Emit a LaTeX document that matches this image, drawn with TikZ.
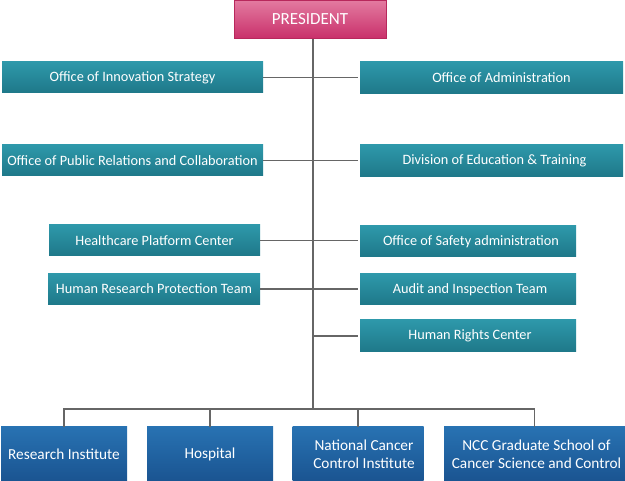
\documentclass[tikz,border=0pt]{standalone}
\usepackage{fontspec}
\setmainfont{Carlito}
\definecolor{tealtop}{HTML}{2E98AA}
\definecolor{tealbot}{HTML}{1E7889}
\definecolor{bluetop}{HTML}{2872B2}
\definecolor{bluebot}{HTML}{1A5491}
\definecolor{pinktop}{HTML}{E37AA0}
\definecolor{pinkbot}{HTML}{C9306A}
\definecolor{pinkline}{HTML}{B8285C}
\definecolor{conn}{HTML}{666666}
\begin{document}
\begin{tikzpicture}[x=1pt,y=-1pt,
  base/.style={rectangle, inner sep=0pt, text=white, align=center, font=\fontsize{14.3}{16}\selectfont},
  tealbox/.style={base, top color=tealtop, bottom color=tealbot},
  bluebox/.style={base, top color=bluetop, bottom color=bluebot, font=\fontsize{15.3}{17.5}\selectfont},
  presbox/.style={base, top color=pinktop, bottom color=pinkbot, draw=pinkline, line width=0.8pt, font=\fontsize{17}{19}\selectfont},
  link/.style={draw=conn, line width=1.1pt}]
\useasboundingbox (0,0) rectangle (625,481);
% president
\node[presbox, minimum width=152pt, minimum height=38pt] (pres) at (310,19.5) {PRESIDENT};
% left column
\node[tealbox, minimum width=261pt, minimum height=31pt] (ois) at (132.5,77.5) {Office of Innovation Strategy};
\node[tealbox, minimum width=261pt, minimum height=31pt] (oprc) at (132.5,160.5) {Office of Public Relations and Collaboration};
\node[tealbox, minimum width=211pt, minimum height=31pt] (hpc) at (154.5,240.5) {Healthcare Platform Center};
\node[tealbox, minimum width=212pt, minimum height=31pt] (hrpt) at (154,289) {Human Research Protection Team};
% right column
\node[tealbox, minimum width=263pt, minimum height=32pt] (oa) at (491.5,78) {\hspace*{20pt}Office of Administration};
\node[tealbox, minimum width=263pt, minimum height=32pt] (det) at (491.5,161) {\hspace*{6pt}Division of Education \& Training};
\node[tealbox, minimum width=216pt, minimum height=31pt] (osa) at (468,241.5) {\hspace*{6pt}Office of Safety administration};
\node[tealbox, minimum width=216pt, minimum height=31pt] (ait) at (468,289.5) {\hspace*{4pt}Audit and Inspection Team};
\node[tealbox, minimum width=216pt, minimum height=32pt] (hrc) at (468,336) {\hspace*{4pt}Human Rights Center};
% bottom row
\node[bluebox, minimum width=126pt, minimum height=54pt] (ri) at (64,454) {Research Institute};
\node[bluebox, minimum width=126pt, minimum height=54pt] (hosp) at (210,454) {Hospital};
\node[bluebox, minimum width=131pt, minimum height=54pt] (nci) at (358,454) {\hspace*{12pt}National Cancer\\\hspace*{12pt}Control Institute};
\node[bluebox, minimum width=181pt, minimum height=54pt] (ncc) at (534.5,454) {\hspace*{4pt}NCC Graduate School of\\\hspace*{4pt}Cancer Science and Control};
% connectors
\coordinate (top) at (313,39);
\coordinate (bus) at (313,409);
\draw[link] (top) -- (bus);
\draw[link, shorten >=2pt] (ois.east) -- (ois.east -| oa.west);
\draw[link, shorten >=2pt] (oprc.east) -- (oprc.east -| det.west);
\draw[link, shorten >=2pt] (hpc.east) -- (hpc.east -| osa.west);
\draw[link, shorten >=2pt] (hrpt.east) -- (hrpt.east -| ait.west);
\draw[link, shorten >=2pt] (hrc.west -| top) -- (hrc.west);
\draw[link] (ri.north) -- (ri.north |- bus) -- (ncc.north |- bus) -- (ncc.north);
\draw[link] (hosp.north) -- (hosp.north |- bus);
\draw[link] (nci.north) -- (nci.north |- bus);
\end{tikzpicture}
\end{document}
